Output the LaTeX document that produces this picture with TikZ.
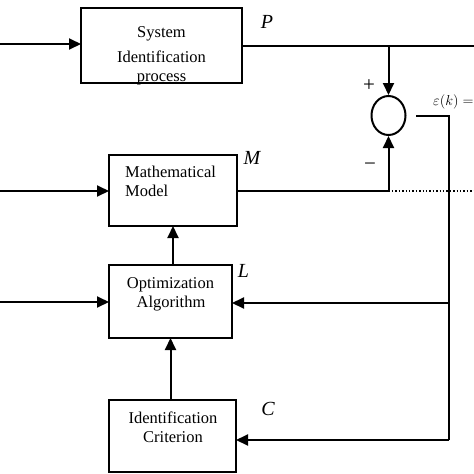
\documentclass[tikz,border=0pt]{standalone}
\usepackage{fontspec}
\setmainfont{Liberation Serif}
\usetikzlibrary{arrows.meta,shapes.geometric}
\begin{document}
\begin{tikzpicture}[x=1pt,y=-1pt,
  blk/.style={draw,line width=2pt,inner sep=0pt,outer sep=0pt},
  txt/.style={inner sep=0pt,anchor=base,font=\fontsize{16.5}{18}\selectfont},
  lbl/.style={inner sep=0pt,anchor=base,font=\fontsize{20}{22}\selectfont\itshape},
  sgn/.style={inner sep=0pt,font=\fontsize{21}{22}\selectfont},
  wire/.style={line width=2pt},
  arr/.style={wire,-{Triangle[length=12pt,width=11pt]}},
]
\useasboundingbox (0,0) rectangle (474,474);
% blocks
\node[blk,minimum width=161pt,minimum height=75pt] (sys) at (161.5,45.5) {};
\node[blk,minimum width=128pt,minimum height=71pt] (mm) at (173,190.5) {};
\node[blk,minimum width=123pt,minimum height=73pt] (opt) at (170.5,301.5) {};
\node[blk,minimum width=127pt,minimum height=72pt] (crit) at (172.5,436) {};
\node[draw,ellipse,line width=2pt,minimum width=34pt,minimum height=39pt,inner sep=0pt] (sum) at (388.5,115.5) {};
% block texts
\node[txt] (t1) at (161.5,37.3) {System};
\node[txt] (t2) at (161.5,62.3) {Identification};
\node[txt] (t3) at (161.5,81) {process};
\node[txt,anchor=base west] (t4) at (125,177.3) {Mathematical};
\node[txt,anchor=base west] (t5) at (125,196) {Model};
\node[txt] (t6) at (170.5,288.7) {Optimization};
\node[txt] (t7) at (171,307) {Algorithm};
\node[txt] (t8) at (173,423.7) {Identification};
\node[txt] (t9) at (173,442) {Criterion};
% labels
\node[lbl] (lP) at (267,28) {P};
\node[lbl] (lM) at (252,164) {M};
\node[lbl] (lL) at (243.5,277.7) {L};
\node[lbl] (lC) at (268,415) {C};
\node[sgn] (plus) at (369,86) {+};
\node[sgn] (minus) at (370,167) {−};
\node[inner sep=0pt,anchor=base west,font=\fontsize{14}{16}\selectfont] (eps) at (433,105) {$\varepsilon(k) =$};
% coordinates
\coordinate (in1) at (0,44);
\coordinate (in2) at (0,191);
\coordinate (in3) at (0,302);
\coordinate (outR) at (474,46);
\coordinate (br) at (388.5,46);
\coordinate (mo) at (388.5,191);
\coordinate (dotE) at (474,191);
\coordinate (eS) at (416,116);
\coordinate (eC) at (449,116);
\coordinate (eL) at (449,303);
\coordinate (eB) at (449,440);
% connectors
\draw[arr] (in1) -- (in1 -| sys.west);
\draw[wire] (sys.east |- outR) -- (outR);
\draw[arr] (br) -- (sum.north);
\draw[arr] (in2) -- (in2 -| mm.west);
\draw[wire] (mm.east |- mo) -- (mo);
\draw[arr] (mo) -- (sum.south);
\draw[dotted,line width=1.4pt] (mo) -- (dotE);
\draw[arr] (in3) -- (in3 -| opt.west);
\draw[arr] (mm.south |- opt.north) -- (mm.south);
\draw[arr] (opt.south |- crit.north) -- (opt.south);
\draw[wire] (eS) -- (eC) -- (eB);
\draw[arr] (eL) -- (eL -| opt.east);
\draw[arr] (eB) -- (eB -| crit.east);
\end{tikzpicture}
\end{document}
